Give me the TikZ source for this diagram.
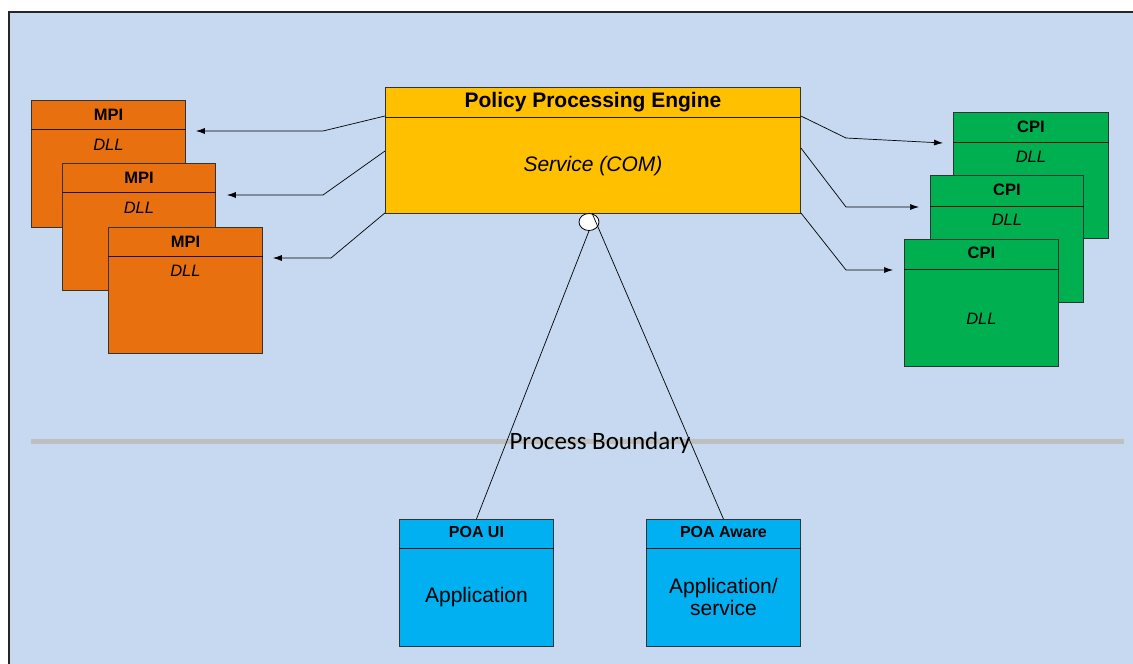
\documentclass[tikz,border=0pt]{standalone}
\usepackage{fontspec}
\setmainfont{Liberation Sans}
\newfontfamily\calib{Carlito}
\usetikzlibrary{arrows.meta,calc,shapes.geometric}
\definecolor{bg}{HTML}{C6D9F0}
\definecolor{mpiorange}{HTML}{E9700E}
\definecolor{cpigreen}{HTML}{00B050}
\definecolor{ppeyellow}{HTML}{FFC000}
\definecolor{poacyan}{HTML}{00B0F0}
\definecolor{boundary}{HTML}{BFBFBF}
\begin{document}
\begin{tikzpicture}[x=1pt,y=-1pt,
  umlbox/.style={draw=black!80, line width=0.9pt, anchor=north west, inner sep=0pt,
    minimum width=154pt, minimum height=127pt},
  hdr/.style={draw=black!90, line width=0.8pt},
  ttl/.style={font=\fontsize{16.5}{19}\selectfont\bfseries, inner sep=0pt},
  dll/.style={font=\fontsize{16.5}{19}\selectfont\itshape, inner sep=0pt},
  body/.style={font=\fontsize{21}{21.5}\selectfont, inner sep=0pt, align=center},
  arr/.style={draw=black, line width=0.7pt, -{Latex[length=9pt,width=6pt]}},
  conn/.style={draw=black, line width=0.7pt}]
\useasboundingbox (0,0) rectangle (1133,664);
\fill[white] (0,0) rectangle (1133,664);
\filldraw[fill=bg, draw=black!85, line width=1.6pt] (9,12) rectangle (1145,680);

% MPI boxes
\node (m1) [umlbox, fill=mpiorange] at (31,100) {};
\draw[hdr] ($(m1.north west)+(0,29)$) -- ($(m1.north east)+(0,29)$);
\node (m1t) [ttl] at ($(m1.north)+(0,14.5)$) {MPI};
\node (m1d) [dll] at ($(m1.north)+(0,44.5)$) {DLL};

\node (m2) [umlbox, fill=mpiorange, minimum width=153pt] at (62,163) {};
\draw[hdr] ($(m2.north west)+(0,29)$) -- ($(m2.north east)+(0,29)$);
\node (m2t) [ttl] at ($(m2.north)+(0,14.5)$) {MPI};
\node (m2d) [dll] at ($(m2.north)+(0,44.5)$) {DLL};

\node (m3) [umlbox, fill=mpiorange, minimum height=126pt] at (108,227) {};
\draw[hdr] ($(m3.north west)+(0,29)$) -- ($(m3.north east)+(0,29)$);
\node (m3t) [ttl] at ($(m3.north)+(0,14.5)$) {MPI};
\node (m3d) [dll] at ($(m3.north)+(0,43.5)$) {DLL};

% CPI boxes
\node (c1) [umlbox, fill=cpigreen, minimum width=155pt, minimum height=126pt] at (953,112) {};
\draw[hdr] ($(c1.north west)+(0,30)$) -- ($(c1.north east)+(0,30)$);
\node (c1t) [ttl] at ($(c1.north)+(0,15)$) {CPI};
\node (c1d) [dll] at ($(c1.north)+(0,44.5)$) {DLL};

\node (c2) [umlbox, fill=cpigreen, minimum width=153pt] at (930,175) {};
\draw[hdr] ($(c2.north west)+(0,31)$) -- ($(c2.north east)+(0,31)$);
\node (c2t) [ttl] at ($(c2.north)+(0,15)$) {CPI};
\node (c2d) [dll] at ($(c2.north)+(0,44.5)$) {DLL};

\node (c3) [umlbox, fill=cpigreen] at (904,239) {};
\draw[hdr] ($(c3.north west)+(0,30)$) -- ($(c3.north east)+(0,30)$);
\node (c3t) [ttl] at ($(c3.north)+(0,14)$) {CPI};
\node (c3d) [dll] at ($(c3.north)+(0,79.5)$) {DLL};

% Policy Processing Engine
\node (p) [umlbox, fill=ppeyellow, minimum width=415pt, minimum height=126pt] at (385,87) {};
\draw[hdr] ($(p.north west)+(0,30)$) -- ($(p.north east)+(0,30)$);
\node (pt) [font=\fontsize{21}{24}\selectfont\bfseries, inner sep=0pt] at ($(p.north)+(0,15.5)$) {Policy Processing Engine};
\node (ps) [font=\fontsize{21}{24}\selectfont\itshape, inner sep=0pt] at ($(p.north)+(0,79)$) {Service (COM)};

% arrows to MPI
\draw[arr] ($(p.north west)+(0,29)$) -- (323,131) -- ($(m1.north east)+(10,31)$);
\draw[arr] ($(p.north west)+(0,64)$) -- (323,195) -- ($(m2.north east)+(11,32)$);
\draw[arr] ($(p.south west)+(0,-1)$) -- (331,258) -- ($(m3.north east)+(10,31)$);
% arrows to CPI
\draw[arr] ($(p.north east)+(0,29)$) -- (846,138) -- ($(c1.north west)+(-10,31)$);
\draw[arr] ($(p.north east)+(0,61)$) -- (846,207) -- ($(c2.north west)+(-11,32)$);
\draw[arr] ($(p.south east)+(0,-1)$) -- (846,270) -- ($(c3.north west)+(-11,31)$);

% process boundary
\draw[boundary, line width=5pt] (31,441) -- (1124,441);
\node (pb) [font=\calib\fontsize{25}{28}\selectfont, inner sep=0pt] at (600,443) {Process Boundary};

% POA boxes
\node (u) [umlbox, fill=poacyan] at (399,519) {};
\draw[hdr] ($(u.north west)+(0,29)$) -- ($(u.north east)+(0,29)$);
\node (ut) [ttl, font=\fontsize{16}{19}\selectfont\bfseries] at ($(u.north)+(0,13)$) {POA UI};
\node (ub) [body] at ($(u.north)+(0,78)$) {Application};

\node (a) [umlbox, fill=poacyan] at (646,519) {};
\draw[hdr] ($(a.north west)+(0,29)$) -- ($(a.north east)+(0,29)$);
\node (at) [ttl, font=\fontsize{16}{19}\selectfont\bfseries] at ($(a.north)+(0,13)$) {POA Aware};
\node (ab) [body] at ($(a.north)+(0,78)$) {Application/\\service};

% interface lollipop
\node (k) [ellipse, draw=black, line width=0.8pt, fill=white, minimum width=20pt, minimum height=17pt, inner sep=0pt] at (589,222) {};
\draw[conn] (k.south) -- (u.north);
\draw[conn] ($(k.north)+(3,0)$) -- (a.north);
\end{tikzpicture}
\end{document}
